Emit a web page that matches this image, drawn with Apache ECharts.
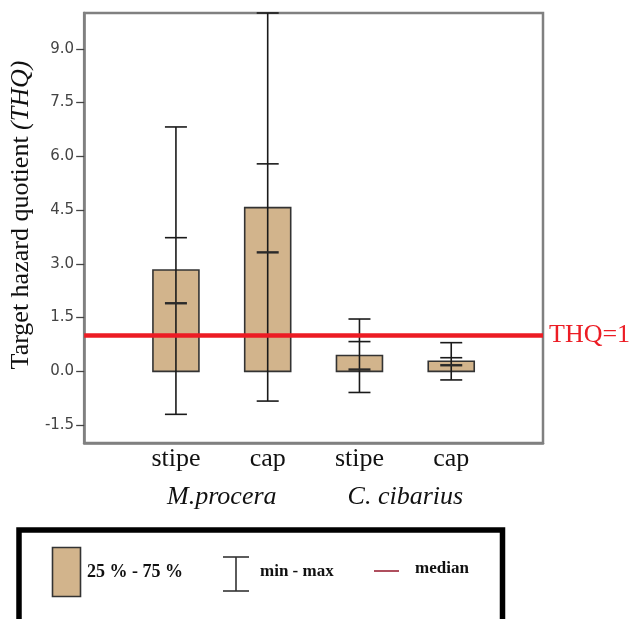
<!DOCTYPE html>
<html><head><meta charset="utf-8">
<script src="https://cdn.jsdelivr.net/npm/echarts@6/dist/echarts.min.js"></script>
<style>html,body{margin:0;padding:0;background:#fff}#c{width:632px;height:619px}</style>
</head><body><div id="c"></div>
<script>
// ---- data ----
const parts = ['stipe', 'cap', 'stipe', 'cap'];
const species = ['M.procera', 'C. cibarius'];
const minV    = [-1.20, -0.83, -0.59, -0.24];
const q1V     = [0, 0, 0, 0];
const medianV = [1.90, 3.32, 0.05, 0.17];
const q3V     = [2.83, 4.57, 0.44, 0.28];
const tickV   = [3.73, 5.79, 0.83, 0.38];
const maxV    = [6.82, 10.0, 1.46, 0.80];
const yTicks  = [-1.5, 0, 1.5, 3.0, 4.5, 6.0, 7.5, 9.0];
const thqLimit = 1;
const legendLabels = ['25 % - 75 %', 'min - max', 'median'];

// ---- build ----
const xCats = [''].concat(parts).concat(['']);
const groupCats = ['', species[0], '', species[1], ''];
const boxData = parts.map((p, i) => [i + 1, minV[i], q1V[i], medianV[i], q3V[i], maxV[i], tickV[i]]);

const SERIF = '"Liberation Serif", "Times New Roman", serif';
const TAN = '#d2b48c';

function renderItem(params, api) {
  const x = api.value(0);
  const c = v => api.coord([x, v]);
  const pMin = c(api.value(1)), pQ1 = c(api.value(2)), pMed = c(api.value(3)),
        pQ3 = c(api.value(4)), pMax = c(api.value(5)), pT = c(api.value(6));
  const bw = 46, cw = 22, cx = pMin[0];
  const cap = (p, lw, col) => ({
    type: 'line',
    shape: { x1: cx - cw / 2, y1: p[1], x2: cx + cw / 2, y2: p[1] },
    style: { stroke: col || '#1a1a1a', lineWidth: lw || 1.6 }
  });
  return {
    type: 'group',
    children: [
      { type: 'rect', shape: { x: cx - bw / 2, y: pQ3[1], width: bw, height: pQ1[1] - pQ3[1] },
        style: { fill: TAN, stroke: '#333', lineWidth: 1.6 } },
      { type: 'line', shape: { x1: cx, y1: pMin[1], x2: cx, y2: pMax[1] },
        style: { stroke: '#1a1a1a', lineWidth: 1.6 } },
      cap(pMin), cap(pMax), cap(pT), cap(pMed, 2.4, '#2a2a2a')
    ]
  };
}

const chart = echarts.init(document.getElementById('c'));
chart.setOption({
  backgroundColor: '#fff',
  animation: false,
  grid: { left: 82, right: 89, top: 13, bottom: 176, show: true, borderColor: '#808080', borderWidth: 2.5, backgroundColor: 'transparent' },
  xAxis: [
    { type: 'category', data: xCats, boundaryGap: false,
      axisLine: { onZero: false, lineStyle: { color: '#808080', width: 2.5 } },
      axisTick: { show: false },
      axisLabel: { interval: 0, margin: 3, fontFamily: SERIF, fontSize: 26, color: '#111' } },
    { type: 'category', data: groupCats, boundaryGap: true, position: 'bottom', offset: 39,
      axisLine: { show: false, onZero: false }, axisTick: { show: false },
      axisLabel: { interval: 0, margin: 2, fontFamily: SERIF, fontSize: 26, fontStyle: 'italic', color: '#111' } }
  ],
  yAxis: {
    type: 'value', min: -2, max: 10,
    name: 'Target hazard quotient {i|(THQ)}',
    nameLocation: 'middle', nameGap: 46, nameRotate: 90,
    nameTextStyle: { fontFamily: SERIF, fontSize: 26, color: '#111', padding: [0, 0, 0, 26],
      rich: { i: { fontFamily: SERIF, fontSize: 26, fontStyle: 'italic', color: '#111' } } },
    splitLine: { show: false },
    axisLine: { show: true, lineStyle: { color: '#808080', width: 2.5 } },
    axisTick: { show: true, length: 8, customValues: yTicks, lineStyle: { color: '#444', width: 1.3 } },
    axisLabel: { customValues: yTicks, margin: 10, fontFamily: '"DejaVu Sans", sans-serif', fontSize: 15, color: '#444',
      formatter: v => v.toFixed(1) }
  },
  series: [
    { type: 'custom', name: 'box', renderItem: renderItem, data: boxData,
      encode: { x: 0, y: [1, 2, 3, 4, 5, 6] }, z: 2 },
    { type: 'line', name: 'THQ', data: [], z: 5,
      markLine: { silent: true, symbol: 'none',
        lineStyle: { color: '#ec1c24', width: 4.5, type: 'solid' },
        label: { show: true, position: 'end', distance: 6, formatter: 'THQ=' + thqLimit,
          fontFamily: SERIF, fontSize: 26, color: '#ec1c24' },
        data: [{ yAxis: thqLimit }] } }
  ],
  graphic: [
    { type: 'rect', shape: { x: 19, y: 530, width: 483.5, height: 120 },
      style: { fill: 'none', stroke: '#000', lineWidth: 5.5 } },
    { type: 'rect', shape: { x: 52.5, y: 547.5, width: 28, height: 49 },
      style: { fill: TAN, stroke: '#333', lineWidth: 1.6 } },
    { type: 'text', x: 87, y: 572, style: { text: legendLabels[0], fontFamily: SERIF, fontSize: 18, fontWeight: 'bold', fill: '#111', verticalAlign: 'middle' } },
    { type: 'line', shape: { x1: 223, y1: 557, x2: 249, y2: 557 }, style: { stroke: '#333', lineWidth: 1.6 } },
    { type: 'line', shape: { x1: 236, y1: 557, x2: 236, y2: 591 }, style: { stroke: '#333', lineWidth: 1.6 } },
    { type: 'line', shape: { x1: 223, y1: 591, x2: 249, y2: 591 }, style: { stroke: '#333', lineWidth: 1.6 } },
    { type: 'text', x: 260, y: 572, style: { text: legendLabels[1], fontFamily: SERIF, fontSize: 17, fontWeight: 'bold', fill: '#111', verticalAlign: 'middle' } },
    { type: 'line', shape: { x1: 374, y1: 571, x2: 399, y2: 571 }, style: { stroke: '#9b2335', lineWidth: 1.6 } },
    { type: 'text', x: 415, y: 569, style: { text: legendLabels[2], fontFamily: SERIF, fontSize: 17, fontWeight: 'bold', fill: '#111', verticalAlign: 'middle' } }
  ]
});
</script>
</body></html>
